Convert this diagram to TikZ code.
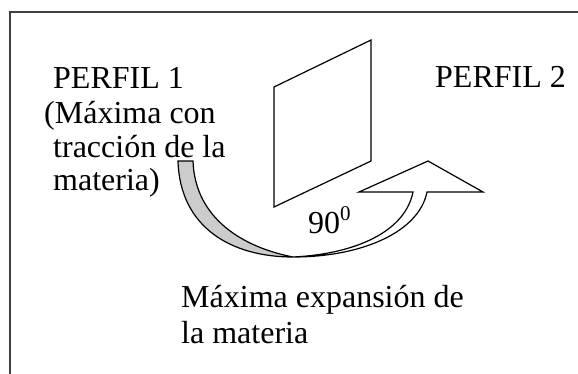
\documentclass[tikz,border=0pt]{standalone}
\usepackage{fontspec}
\setmainfont{Liberation Serif}
\begin{document}
\begin{tikzpicture}[x=1pt,y=-1pt,
  lbl/.style={anchor=base west,inner sep=0pt,font=\fontsize{32}{34}\selectfont},
  frame/.style={draw=black!75,line width=2pt},
  edge/.style={draw=black,line width=1.2pt,line join=miter}]
\useasboundingbox (0,0) rectangle (578,373);
% frame
\draw[frame] (9.5,380) -- (9.5,12) -- (590,12);
% parallelogram
\draw[edge] (274,87) -- (371,40) -- (371,161) -- (274,207) -- cycle;
% gray back face of the ribbon
\filldraw[edge,fill=black!20]
  (178,161) .. controls (180,228) and (232,257) .. (293,257)
  .. controls (242,247) and (195,218) .. (193,161) -- cycle;
% white front face of the ribbon with head
\filldraw[edge,fill=white]
  (293,257) .. controls (362,257) and (419,232) .. (427,192)
  -- (483,192) -- (428,161) -- (359,192) -- (413,192)
  .. controls (405,232) and (355,254) .. (293,257) -- cycle;
% texts
\node[lbl] (p1) at (53,88) {PERFIL 1};
\node[lbl] (l1) at (44,123) {(Máxima con};
\node[lbl] (l2) at (53,157) {tracción de la};
\node[lbl] (l3) at (53,190) {materia)};
\node[lbl] (p2) at (435,87) {PERFIL 2};
\node[lbl] (ang) at (308,233) {90\raisebox{13pt}{\fontsize{21}{21}\selectfont 0}};
\node[lbl] (m1) at (181,307) {Máxima expansión de};
\node[lbl] (m2) at (181,343) {la materia};
\end{tikzpicture}
\end{document}
